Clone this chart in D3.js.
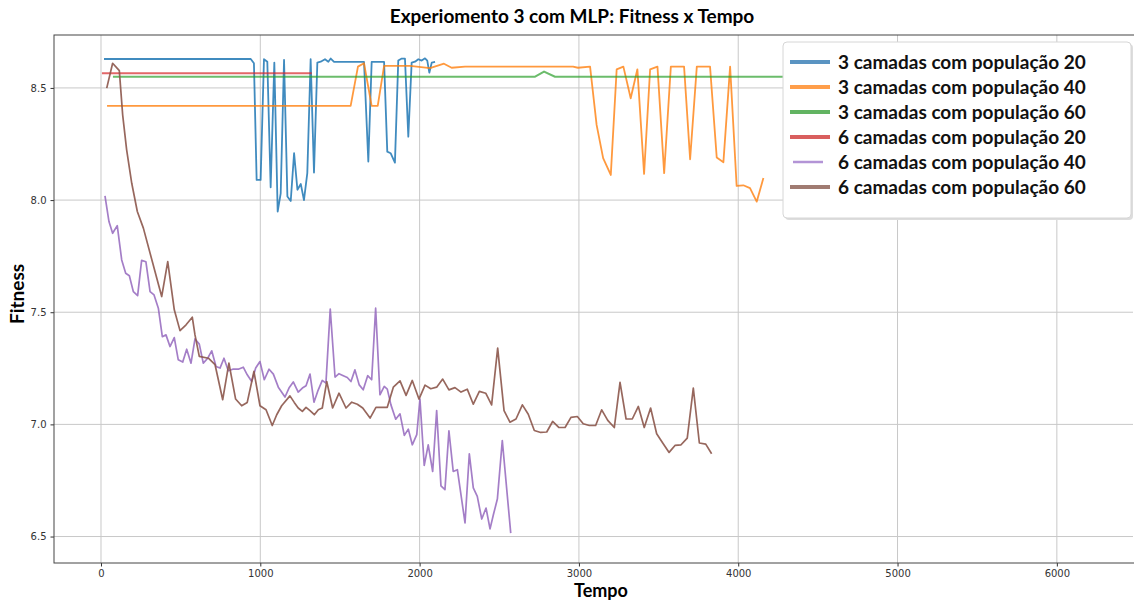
<!DOCTYPE html>
<html>
<head>
<meta charset="utf-8">
<script src="https://cdn.jsdelivr.net/npm/d3@7"></script>
<style>
  body { margin: 0; background: #fff; }
  svg { display: block; }
</style>
</head>
<body>
<div id="chart"></div>
<script>
// Data: [tempo, fitness]
const c3p20 = [
  [19, 8.629], [940, 8.629], [960, 8.61], [977, 8.09], [1002, 8.09], [1023, 8.628],
  [1044, 8.617], [1065, 8.057], [1088, 8.613], [1109, 7.949], [1128, 8.03], [1149, 8.625],
  [1170, 8.016], [1191, 7.996], [1212, 8.209], [1233, 8.046], [1254, 8.072], [1274, 8.0],
  [1295, 8.12], [1316, 8.628], [1337, 8.123], [1358, 8.613], [1379, 8.617], [1406, 8.628],
  [1427, 8.617], [1442, 8.631], [1463, 8.616], [1651, 8.616], [1678, 8.172], [1699, 8.616],
  [1777, 8.616], [1797, 8.216], [1818, 8.209], [1845, 8.167], [1866, 8.622], [1888, 8.631],
  [1908, 8.631], [1929, 8.283], [1950, 8.613], [1971, 8.617], [1992, 8.628], [2013, 8.622],
  [2034, 8.632], [2048, 8.622], [2061, 8.568], [2076, 8.613], [2097, 8.616]
];
const c3p40 = [
  [38, 8.42], [1567, 8.42], [1613, 8.595], [1651, 8.61], [1699, 8.42], [1737, 8.42],
  [1777, 8.598], [1940, 8.598], [2065, 8.588], [2153, 8.608], [2201, 8.59], [2285, 8.595],
  [2963, 8.595], [2994, 8.59], [3070, 8.595], [3111, 8.335], [3152, 8.187], [3200, 8.112],
  [3237, 8.583], [3279, 8.595], [3325, 8.454], [3367, 8.583], [3409, 8.117], [3447, 8.583],
  [3493, 8.595], [3535, 8.12], [3577, 8.595], [3660, 8.595], [3698, 8.182], [3740, 8.595],
  [3823, 8.595], [3865, 8.19], [3907, 8.169], [3949, 8.595], [3990, 8.063], [4032, 8.066],
  [4074, 8.053], [4116, 7.993], [4158, 8.098]
];
const c3p60 = [
  [75, 8.55], [2725, 8.55], [2781, 8.573], [2850, 8.55], [6150, 8.55]
];
const c6p20 = [
  [6, 8.566], [1323, 8.566]
];
const c6p40 = [
  [25, 8.019], [50, 7.904], [73, 7.852], [102, 7.886], [130, 7.733], [155, 7.674],
  [178, 7.663], [203, 7.592], [230, 7.574], [255, 7.731], [282, 7.725], [308, 7.592],
  [333, 7.577], [360, 7.518], [385, 7.391], [408, 7.399], [433, 7.347], [460, 7.387],
  [485, 7.288], [513, 7.278], [538, 7.335], [565, 7.273], [590, 7.381], [617, 7.358],
  [642, 7.273], [670, 7.295], [695, 7.328], [722, 7.258], [747, 7.251], [772, 7.295],
  [799, 7.239], [827, 7.246], [862, 7.246], [893, 7.255], [918, 7.221], [946, 7.191],
  [971, 7.251], [998, 7.28], [1025, 7.199], [1055, 7.246], [1082, 7.224], [1113, 7.166],
  [1155, 7.122], [1180, 7.162], [1207, 7.189], [1238, 7.144], [1264, 7.162], [1287, 7.172],
  [1312, 7.224], [1337, 7.099], [1360, 7.147], [1389, 7.196], [1412, 7.184], [1439, 7.514],
  [1469, 7.211], [1494, 7.226], [1521, 7.217], [1546, 7.209], [1569, 7.191], [1594, 7.243],
  [1621, 7.176], [1646, 7.154], [1674, 7.217], [1699, 7.199], [1724, 7.518], [1751, 7.132],
  [1778, 7.169], [1797, 7.157], [1820, 7.087], [1850, 7.023], [1877, 7.047], [1904, 6.951],
  [1929, 6.979], [1954, 6.909], [1982, 6.954], [2002, 7.113], [2029, 6.817], [2054, 6.909],
  [2082, 6.79], [2107, 7.062], [2134, 6.726], [2159, 6.709], [2184, 6.971], [2211, 6.79],
  [2237, 6.798], [2285, 6.561], [2312, 6.869], [2337, 6.717], [2362, 6.679], [2390, 6.578],
  [2417, 6.627], [2442, 6.534], [2463, 6.597], [2488, 6.667], [2519, 6.928], [2572, 6.515]
];
const c6p60 = [
  [36, 8.499], [73, 8.61], [115, 8.577], [136, 8.38], [161, 8.224], [193, 8.075],
  [228, 7.949], [266, 7.875], [381, 7.57], [419, 7.726], [460, 7.511], [496, 7.418],
  [534, 7.444], [573, 7.478], [590, 7.399], [617, 7.303], [674, 7.295], [716, 7.266],
  [764, 7.11], [803, 7.273], [845, 7.113], [883, 7.083], [918, 7.098], [960, 7.236],
  [998, 7.083], [1036, 7.065], [1075, 6.995], [1103, 7.043], [1134, 7.083], [1186, 7.127],
  [1213, 7.098], [1238, 7.073], [1264, 7.058], [1287, 7.076], [1312, 7.061], [1339, 7.043],
  [1364, 7.065], [1389, 7.073], [1417, 7.191], [1454, 7.073], [1494, 7.139], [1538, 7.073],
  [1574, 7.099], [1609, 7.09], [1643, 7.073], [1689, 7.028], [1726, 7.076], [1797, 7.076],
  [1835, 7.166], [1877, 7.194], [1915, 7.129], [1954, 7.196], [1996, 7.113], [2034, 7.175],
  [2070, 7.159], [2107, 7.166], [2145, 7.202], [2184, 7.154], [2222, 7.164], [2260, 7.144],
  [2299, 7.157], [2337, 7.09], [2375, 7.147], [2415, 7.139], [2452, 7.087], [2490, 7.34],
  [2530, 7.061], [2567, 7.01], [2605, 7.024], [2645, 7.087], [2682, 7.045], [2720, 6.973],
  [2760, 6.964], [2798, 6.966], [2835, 7.013], [2875, 6.986], [2913, 6.986], [2950, 7.031],
  [2990, 7.035], [3027, 7.003], [3065, 6.995], [3105, 6.995], [3143, 7.065], [3181, 7.018],
  [3222, 6.986], [3258, 7.187], [3296, 7.024], [3335, 7.024], [3373, 7.08], [3410, 6.986],
  [3450, 7.073], [3488, 6.958], [3526, 6.917], [3566, 6.875], [3603, 6.906], [3641, 6.909],
  [3680, 6.939], [3718, 7.162], [3756, 6.917], [3796, 6.912], [3833, 6.869]
];

const seriesNames = [
  '3 camadas com população 20',
  '3 camadas com população 40',
  '3 camadas com população 60',
  '6 camadas com população 20',
  '6 camadas com população 40',
  '6 camadas com população 60'
];
const xTicks = [0, 1000, 2000, 3000, 4000, 5000, 6000];
const yTicks = [6.5, 7.0, 7.5, 8.0, 8.5];

const WIDTH = 1134;
const HEIGHT = 601;
const margin = { top: 35, right: 1, bottom: 38, left: 54 };

const series = [c3p20, c3p40, c3p60, c6p20, c6p40, c6p60];
const colors = ['#1f77b4', '#ff7f0e', '#2ca02c', '#d62728', '#9467bd', '#8c564b'];
const widths = [1.8, 1.8, 2, 2, 1.7, 1.7];
const opac = [0.85, 0.8, 0.7, 0.7, 0.85, 0.9];

const svg = d3.select('#chart').append('svg')
  .attr('width', WIDTH)
  .attr('height', HEIGHT);

const x = d3.scaleLinear()
  .domain([-295, 6478])
  .range([margin.left, WIDTH - margin.right]);
const y = d3.scaleLinear()
  .domain([6.382, 8.736])
  .range([HEIGHT - margin.bottom, margin.top]);

// grid
const grid = svg.append('g');
grid.selectAll('.gx').data(xTicks).join('line')
  .attr('x1', d => x(d)).attr('x2', d => x(d))
  .attr('y1', margin.top).attr('y2', HEIGHT - margin.bottom)
  .attr('stroke', '#c8c8c8').attr('stroke-width', 1);
grid.selectAll('.gy').data(yTicks).join('line')
  .attr('x1', margin.left).attr('x2', WIDTH - margin.right)
  .attr('y1', d => y(d)).attr('y2', d => y(d))
  .attr('stroke', '#c8c8c8').attr('stroke-width', 1);

// axes
const xAxis = svg.append('g')
  .attr('transform', `translate(0,${HEIGHT - margin.bottom})`)
  .call(d3.axisBottom(x).tickValues(xTicks).tickFormat(d3.format('d')).tickSize(3.5).tickPadding(3));
const yAxis = svg.append('g')
  .attr('transform', `translate(${margin.left},0)`)
  .call(d3.axisLeft(y).tickValues(yTicks).tickFormat(d3.format('.1f')).tickSize(3.5).tickPadding(4));
[xAxis, yAxis].forEach(g => {
  g.select('.domain').remove();
  g.selectAll('.tick line').attr('stroke', '#333');
  g.selectAll('.tick text')
    .attr('fill', '#333')
    .style('font-family', 'DejaVu Sans')
    .style('font-size', '10px');
});

// lines
svg.append('clipPath').attr('id', 'clip')
  .append('rect')
  .attr('x', margin.left).attr('y', margin.top)
  .attr('width', WIDTH - margin.left - margin.right)
  .attr('height', HEIGHT - margin.top - margin.bottom);

const line = d3.line().x(d => x(d[0])).y(d => y(d[1]));
svg.append('g').attr('clip-path', 'url(#clip)')
  .selectAll('path').data(series).join('path')
  .attr('d', line)
  .attr('fill', 'none')
  .attr('stroke', (d, i) => colors[i])
  .attr('stroke-width', (d, i) => widths[i])
  .attr('stroke-opacity', (d, i) => opac[i])
  .attr('stroke-linejoin', 'round');

// frame
svg.append('rect')
  .attr('x', margin.left).attr('y', margin.top)
  .attr('width', WIDTH - margin.left - margin.right + 2)
  .attr('height', HEIGHT - margin.top - margin.bottom)
  .attr('fill', 'none')
  .attr('stroke', '#444')
  .attr('stroke-width', 1);

// title and axis labels
svg.append('text')
  .attr('x', 572).attr('y', 23)
  .attr('text-anchor', 'middle')
  .style('font-family', 'Lato, "Open Sans", sans-serif')
  .style('font-weight', 'bold')
  .style('font-size', '19px')
  .text('Experiomento 3 com MLP: Fitness x Tempo');

svg.append('text')
  .attr('x', 601).attr('y', 597)
  .attr('text-anchor', 'middle')
  .style('font-family', 'Lato, "Open Sans", sans-serif')
  .style('font-weight', 'bold')
  .style('font-size', '18px')
  .text('Tempo');

svg.append('text')
  .attr('transform', 'translate(24,294) rotate(-90)')
  .attr('text-anchor', 'middle')
  .style('font-family', 'Lato, "Open Sans", sans-serif')
  .style('font-weight', 'bold')
  .style('font-size', '19px')
  .text('Fitness');

// legend
const legend = svg.append('g').attr('transform', 'translate(783,42)');
legend.append('rect')
  .attr('x', 2).attr('y', 2)
  .attr('width', 348).attr('height', 176)
  .attr('rx', 4)
  .attr('fill', '#ddd');
legend.append('rect')
  .attr('width', 348).attr('height', 176)
  .attr('rx', 4)
  .attr('fill', '#fff')
  .attr('stroke', '#d6d6d6');

const legendColors = ['#5a94c2', '#ff9e4a', '#62b462', '#d95f5e', '#b394d6', '#a07b72'];
const item = legend.selectAll('.item').data(seriesNames).join('g')
  .attr('transform', (d, i) => `translate(0,${20 + i * 25})`);
item.append('line')
  .attr('x1', (d, i) => i === 4 ? 10 : 7)
  .attr('x2', (d, i) => i === 4 ? 40 : 47)
  .attr('stroke', (d, i) => legendColors[i])
  .attr('stroke-width', (d, i) => i === 4 ? 2.5 : 4);
item.append('text')
  .attr('x', 55).attr('y', 6.5)
  .style('font-family', 'Lato, "Open Sans", sans-serif')
  .style('font-weight', 'bold')
  .style('font-size', '19px')
  .attr('fill', '#111')
  .text(d => d);
</script>
</body>
</html>
